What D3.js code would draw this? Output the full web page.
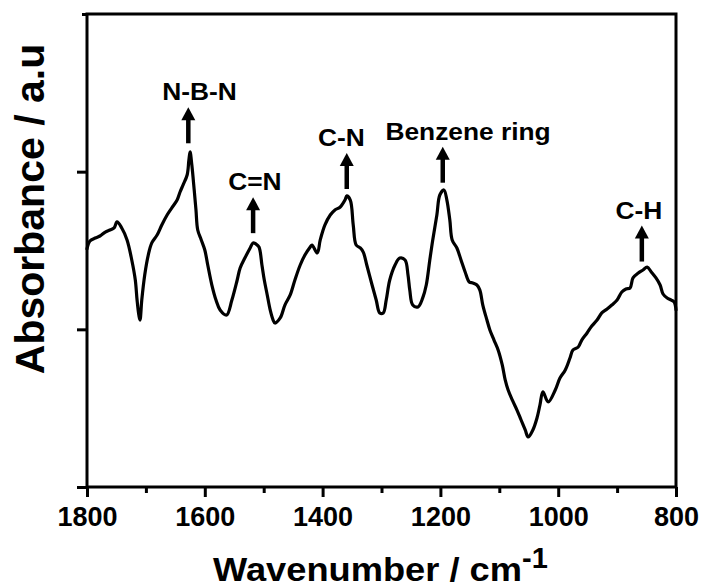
<!DOCTYPE html>
<html><head><meta charset="utf-8">
<script src="https://cdn.jsdelivr.net/npm/d3@7"></script>
<style>
body{margin:0;background:#fff}
svg{display:block}
text{font-family:"Liberation Sans",Arial,Helvetica,sans-serif;font-weight:bold;fill:#000}
</style>
</head><body>
<svg id="c" width="703" height="587"></svg>
<script>
// ---- data ----
const wavenumber = [1800,1795,1786,1778,1769,1761,1754,1749,1741,1732,1724,1718,1715,1712,1710,1707,1702,1696,1690,1681,1673,1664,1656,1647,1642,1637,1630,1627,1625,1622,1618,1615,1612,1606,1600,1595,1588,1581,1574,1563,1554,1545,1540,1532,1523,1518,1513,1508,1503,1499,1494,1489,1484,1481,1472,1464,1455,1447,1438,1430,1421,1418,1409,1404,1396,1387,1379,1370,1362,1359,1353,1348,1343,1336,1331,1325,1316,1309,1303,1297,1292,1286,1277,1269,1260,1255,1252,1247,1238,1230,1224,1218,1213,1206,1201,1194,1189,1184,1180,1172,1165,1158,1151,1145,1138,1133,1128,1121,1116,1109,1102,1095,1090,1085,1078,1070,1063,1056,1051,1043,1036,1031,1026,1017,1005,997,988,980,975,966,960,951,943,934,926,917,909,900,892,885,878,873,864,856,849,842,834,827,822,815,808,803,800];
const absorbance = [1.510,1.560,1.579,1.592,1.617,1.630,1.643,1.681,1.643,1.567,1.440,1.313,1.186,1.091,1.059,1.186,1.345,1.471,1.548,1.598,1.662,1.725,1.770,1.820,1.871,1.915,1.979,2.074,2.125,2.042,1.884,1.757,1.630,1.567,1.503,1.408,1.281,1.186,1.123,1.091,1.186,1.313,1.389,1.452,1.516,1.548,1.541,1.522,1.408,1.313,1.218,1.123,1.059,1.040,1.072,1.154,1.218,1.313,1.408,1.471,1.522,1.535,1.484,1.567,1.662,1.725,1.757,1.776,1.820,1.846,1.820,1.662,1.535,1.516,1.490,1.408,1.281,1.186,1.104,1.104,1.186,1.313,1.408,1.452,1.440,1.345,1.249,1.154,1.142,1.199,1.281,1.440,1.567,1.725,1.852,1.884,1.820,1.693,1.567,1.516,1.440,1.364,1.300,1.294,1.281,1.249,1.154,1.059,0.996,0.932,0.869,0.774,0.679,0.615,0.552,0.488,0.425,0.362,0.317,0.362,0.438,0.520,0.603,0.539,0.615,0.691,0.742,0.818,0.869,0.888,0.932,0.977,1.021,1.059,1.104,1.129,1.154,1.186,1.237,1.256,1.262,1.326,1.357,1.376,1.395,1.364,1.326,1.281,1.224,1.199,1.186,1.173,1.123];
const xTicks = [1800,1600,1400,1200,1000,800];
const xMinorTicks = [1700,1500,1300,1100,900];
const yTicks = [0,1,2];
const peakLabels = ["N-B-N","C=N","C-N","Benzene ring","C-H"];
const peakWavenumber = [1628,1518,1359,1196,858];
const peakArrowBase = [2.18,1.61,1.89,1.93,1.43];
const labelCenter = [1609,1515,1368,1153,863];

// ---- layout ----
const L = 87, R = 676, T = 14, B = 487;
const svg = d3.select("#c");
const x = d3.scaleLinear().domain([1800,800]).range([L,R]);
const y = d3.scaleLinear().domain([0,3]).range([B,T]);

// frame
svg.append("rect").attr("x",L).attr("y",T).attr("width",R-L).attr("height",B-T)
  .attr("fill","none").attr("stroke","#000").attr("stroke-width",3);

// x axis major
const gx = svg.append("g").attr("transform",`translate(0,${B})`)
  .call(d3.axisBottom(x).tickValues(xTicks).tickSize(10).tickSizeOuter(0).tickFormat(d3.format("d")));
gx.select(".domain").remove();
gx.selectAll("line").attr("stroke","#000").attr("stroke-width",3);
gx.selectAll("text").attr("y",39).attr("dy",0).attr("font-size",27).style("font-family",'"Liberation Sans",Arial,sans-serif').style("font-weight","bold");
// x minor
const gxm = svg.append("g").attr("transform",`translate(0,${B})`)
  .call(d3.axisBottom(x).tickValues(xMinorTicks).tickSize(6).tickSizeOuter(0).tickFormat(""));
gxm.select(".domain").remove();
gxm.selectAll("line").attr("stroke","#000").attr("stroke-width",3);

// y axis
const gy = svg.append("g").attr("transform",`translate(${L},0)`)
  .call(d3.axisLeft(y).tickValues(yTicks).tickSize(10).tickSizeOuter(0).tickFormat(""));
gy.select(".domain").remove();
gy.selectAll("line").attr("stroke","#000").attr("stroke-width",3);
const gyt = svg.append("g").attr("transform",`translate(${L},0)`)
  .call(d3.axisLeft(y).tickValues([3]).tickSize(5).tickSizeOuter(0).tickFormat(""));
gyt.select(".domain").remove();
gyt.selectAll("line").attr("stroke","#000").attr("stroke-width",3);

// curve
const pts = wavenumber.map((w,i)=>[w,absorbance[i]]);
const line = d3.line().x(d=>x(d[0])).y(d=>y(d[1])).curve(d3.curveCatmullRom.alpha(0.5));
svg.append("path").datum(pts).attr("d",line).attr("fill","none")
  .attr("stroke","#000").attr("stroke-width",3.2).attr("stroke-linejoin","round").attr("stroke-linecap","round");

// annotations
const arrowLen = 36;
peakLabels.forEach((lab,i)=>{
  const ax = x(peakWavenumber[i]);
  const yb = y(peakArrowBase[i]);
  const yt = yb - arrowLen;
  svg.append("line").attr("x1",ax).attr("x2",ax).attr("y1",yb).attr("y2",yt+10)
    .attr("stroke","#000").attr("stroke-width",4.5);
  svg.append("path").attr("d",`M${ax},${yt} L${ax-7},${yt+13} L${ax+7},${yt+13} Z`).attr("fill","#000");
  const t = svg.append("text").attr("x",x(labelCenter[i])).attr("y",yt-7)
    .attr("text-anchor","middle").attr("font-size",23.5).text(lab);
  const w = t.node().getComputedTextLength();
  t.attr("textLength",w*1.12).attr("lengthAdjust","spacingAndGlyphs");
});

// axis titles
svg.append("text").attr("id","xt").attr("x",213).attr("y",581).attr("font-size",33).text("Wavenumber / cm");
d3.select("#xt").attr("textLength",309).attr("lengthAdjust","spacingAndGlyphs");
svg.append("text").attr("x",522).attr("y",568).attr("font-size",29).text("-1");

svg.append("text").attr("transform",`translate(44,209) rotate(-90)`)
  .attr("text-anchor","middle").attr("font-size",41).text("Absorbance / a.u");
</script>
</body></html>
